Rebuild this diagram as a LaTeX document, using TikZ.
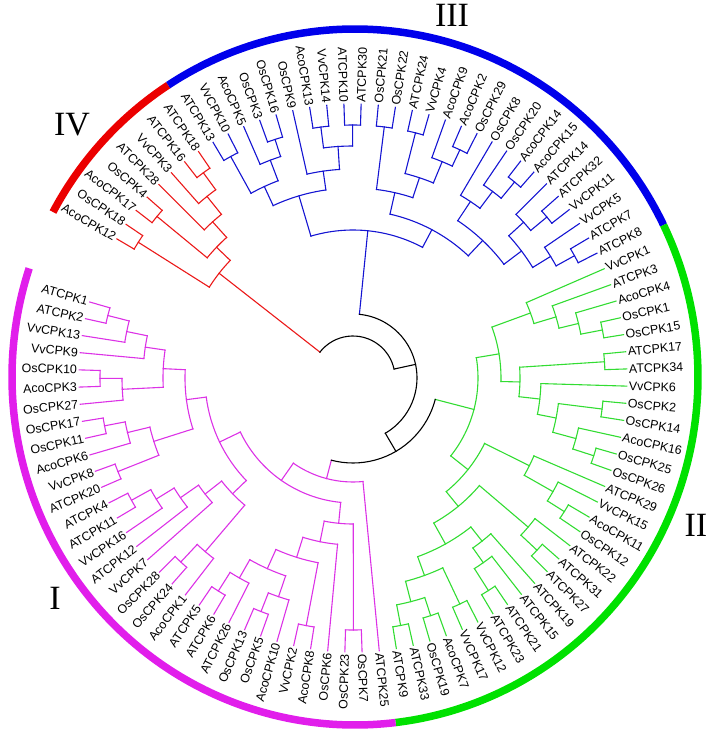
\documentclass[tikz,border=0pt]{standalone}
\usepackage{fontspec}
\setmainfont{Liberation Serif}
\newfontfamily\labfont{Liberation Sans}
\definecolor{cR}{RGB}{235,25,25}
\definecolor{cB}{RGB}{20,20,210}
\definecolor{cG}{RGB}{50,220,50}
\definecolor{cM}{RGB}{220,50,230}
\definecolor{cK}{RGB}{0,0,0}
\definecolor{rR}{RGB}{235,0,0}
\definecolor{rB}{RGB}{0,0,235}
\definecolor{rG}{RGB}{0,225,0}
\definecolor{rM}{RGB}{225,30,235}
\tikzset{
  branch/.style={line width=1.1pt, line cap=rect},
  lab/.style={font=\labfont\fontsize{12.4}{14}\selectfont, inner sep=0pt},
  ringarc/.style={line width=7.5pt},
  roman/.style={font=\fontsize{34}{40}\selectfont, inner sep=0pt}
}
\newcommand\tleaf[4]{%
  \pgfmathsetmacro\tkA{149.5-3.6*#2}%
  \expandafter\xdef\csname TA-#1\endcsname{\tkA}%
  \expandafter\xdef\csname TR-#1\endcsname{#3}%
  \expandafter\xdef\csname TC-#1\endcsname{#4}%
  \coordinate (#1) at (\tkA:#3pt);%
  \pgfmathsetmacro\tkL{#3+2}%
  \pgfmathtruncatemacro\tkS{cos(\tkA)>0}%
  \ifnum\tkS=1
    \node[lab,rotate=\tkA,anchor=west] (L-#1) at (\tkA:\tkL pt) {#1};%
  \else
    \pgfmathsetmacro\tkB{\tkA+180}%
    \node[lab,rotate=\tkB,anchor=east] (L-#1) at (\tkA:\tkL pt) {#1};%
  \fi
}
\newcommand\tnode[5]{%
  \edef\tkA{\csname TA-#3\endcsname}\edef\tkB{\csname TA-#4\endcsname}%
  \edef\tkCa{\csname TC-#3\endcsname}\edef\tkCb{\csname TC-#4\endcsname}%
  \pgfmathsetmacro\tkM{(\tkA+\tkB)/2}%
  \expandafter\xdef\csname TA-#1\endcsname{\tkM}%
  \expandafter\xdef\csname TR-#1\endcsname{#2}%
  \expandafter\xdef\csname TC-#1\endcsname{#5}%
  \coordinate (#1) at (\tkM:#2pt);%
  \draw[branch,color=\tkCa] (#3) -- (\tkA:#2pt);%
  \draw[branch,color=\tkCb] (#4) -- (\tkB:#2pt);%
  \draw[branch,color=#5] (\tkA:#2pt) arc[start angle=\tkA, end angle=\tkB, radius=#2pt];%
}
\begin{document}
\begin{tikzpicture}[x=1pt,y=1pt]
\useasboundingbox (-353,-354) rectangle (356,378);
% outer ring
\begin{scope}[shift={(2,1)}]
\draw[ringarc,rR] (151.7:343pt and 348pt) arc[start angle=151.7,end angle=123,x radius=343pt,y radius=348pt];
\draw[ringarc,rB] (123:343pt and 348pt) arc[start angle=123,end angle=25.9,x radius=343pt,y radius=348pt];
\draw[ringarc,rG] (25.9:343pt and 348pt) arc[start angle=25.9,end angle=-83.2,x radius=343pt,y radius=348pt];
\draw[ringarc,rM] (-83.2:343pt and 348pt) arc[start angle=-83.2,end angle=-198.2,x radius=343pt,y radius=348pt];
\end{scope}
\node[roman] (numIV) at (-281,253) {IV};
\node[roman] (numIII) at (99,363) {III};
\node[roman] (numII) at (343,-147) {II};
\node[roman] (numI) at (-298,-220) {I};
% leaves IV
\tleaf{AcoCPK12}{0}{274}{cR}\tleaf{OsCPK18}{1}{274}{cR}\tleaf{AcoCPK17}{2}{274}{cR}
\tleaf{OsCPK4}{3}{274}{cR}\tleaf{ATCPK28}{4}{274}{cR}\tleaf{VvCPK3}{5}{274}{cR}
\tleaf{ATCPK16}{6}{274}{cR}\tleaf{ATCPK18}{7}{274}{cR}
% leaves III
\tleaf{ATCPK13}{8}{274}{cB}
\tleaf{VvCPK10}{9}{274}{cB}\tleaf{AcoCPK5}{10}{274}{cB}\tleaf{OsCPK3}{11}{274}{cB}
\tleaf{OsCPK16}{12}{274}{cB}\tleaf{OsCPK9}{13}{274}{cB}\tleaf{AcoCPK13}{14}{274}{cB}
\tleaf{VvCPK14}{15}{274}{cB}\tleaf{ATCPK10}{16}{274}{cB}\tleaf{ATCPK30}{17}{274}{cB}
\tleaf{OsCPK21}{18}{274}{cB}\tleaf{OsCPK22}{19}{274}{cB}\tleaf{ATCPK24}{20}{274}{cB}
\tleaf{VvCPK4}{21}{274}{cB}\tleaf{AcoCPK9}{22}{274}{cB}\tleaf{AcoCPK2}{23}{274}{cB}
\tleaf{OsCPK29}{24}{274}{cB}\tleaf{OsCPK8}{25}{274}{cB}\tleaf{OsCPK20}{26}{274}{cB}
\tleaf{AcoCPK14}{27}{274}{cB}\tleaf{AcoCPK15}{28}{274}{cB}\tleaf{ATCPK14}{29}{274}{cB}
\tleaf{ATCPK32}{30}{274}{cB}\tleaf{VvCPK11}{31}{274}{cB}\tleaf{VvCPK5}{32}{274}{cB}
\tleaf{ATCPK7}{33}{274}{cB}\tleaf{ATCPK8}{34}{274}{cB}
% leaves II
\tleaf{VvCPK1}{35}{274}{cG}\tleaf{ATCPK3}{36}{274}{cG}\tleaf{AcoCPK4}{37}{274}{cG}
\tleaf{OsCPK1}{38}{274}{cG}\tleaf{OsCPK15}{39}{274}{cG}\tleaf{ATCPK17}{40}{274}{cG}
\tleaf{ATCPK34}{41}{274}{cG}\tleaf{VvCPK6}{42}{274}{cG}\tleaf{OsCPK2}{43}{274}{cG}
\tleaf{OsCPK14}{44}{274}{cG}\tleaf{AcoCPK16}{45}{274}{cG}\tleaf{OsCPK25}{46}{274}{cG}
\tleaf{OsCPK26}{47}{274}{cG}\tleaf{ATCPK29}{48}{274}{cG}\tleaf{VvCPK15}{49}{274}{cG}
\tleaf{AcoCPK11}{50}{274}{cG}\tleaf{OsCPK12}{51}{274}{cG}\tleaf{ATCPK22}{52}{274}{cG}
\tleaf{ATCPK31}{53}{274}{cG}\tleaf{ATCPK27}{54}{274}{cG}\tleaf{ATCPK19}{55}{274}{cG}
\tleaf{ATCPK15}{56}{274}{cG}\tleaf{ATCPK21}{57}{274}{cG}\tleaf{ATCPK23}{58}{274}{cG}
\tleaf{VvCPK12}{59}{274}{cG}\tleaf{VvCPK17}{60}{274}{cG}\tleaf{AcoCPK7}{61}{274}{cG}
\tleaf{OsCPK19}{62}{274}{cG}\tleaf{ATCPK33}{63}{274}{cG}\tleaf{ATCPK9}{64}{274}{cG}
% leaves I
\tleaf{ATCPK25}{65}{274}{cM}\tleaf{OsCPK7}{66}{274}{cM}\tleaf{OsCPK23}{67}{274}{cM}
\tleaf{OsCPK6}{68}{274}{cM}\tleaf{AcoCPK8}{69}{274}{cM}\tleaf{VvCPK2}{70}{274}{cM}
\tleaf{AcoCPK10}{71}{274}{cM}\tleaf{OsCPK5}{72}{274}{cM}\tleaf{OsCPK13}{73}{274}{cM}
\tleaf{ATCPK26}{74}{274}{cM}\tleaf{ATCPK6}{75}{274}{cM}\tleaf{ATCPK5}{76}{274}{cM}
\tleaf{AcoCPK1}{77}{274}{cM}\tleaf{OsCPK24}{78}{274}{cM}\tleaf{OsCPK28}{79}{274}{cM}
\tleaf{VvCPK7}{80}{274}{cM}\tleaf{ATCPK12}{81}{274}{cM}\tleaf{VvCPK16}{82}{274}{cM}
\tleaf{ATCPK11}{83}{274}{cM}\tleaf{ATCPK4}{84}{274}{cM}\tleaf{ATCPK20}{85}{274}{cM}
\tleaf{VvCPK8}{86}{274}{cM}\tleaf{AcoCPK6}{87}{274}{cM}\tleaf{OsCPK11}{88}{274}{cM}
\tleaf{OsCPK17}{89}{274}{cM}\tleaf{OsCPK27}{90}{274}{cM}\tleaf{AcoCPK3}{91}{274}{cM}
\tleaf{OsCPK10}{92}{274}{cM}\tleaf{VvCPK9}{93}{274}{cM}\tleaf{VvCPK13}{94}{274}{cM}
\tleaf{ATCPK2}{95}{274}{cM}\tleaf{ATCPK1}{96}{274}{cM}
% clade IV
\tnode{r-a}{254}{AcoCPK12}{OsCPK18}{cR}
\tnode{r-b}{254}{AcoCPK17}{OsCPK4}{cR}
\tnode{r-e}{254}{ATCPK16}{ATCPK18}{cR}
\tnode{r-d}{233}{VvCPK3}{r-e}{cR}
\tnode{r-c}{210}{ATCPK28}{r-d}{cR}
\tnode{r-rest}{189}{r-b}{r-c}{cR}
\tnode{cladeIV}{170}{r-a}{r-rest}{cR}
% clade III
\tnode{b-n1}{253}{ATCPK13}{VvCPK10}{cB}
\tnode{b-n2}{251}{OsCPK3}{OsCPK16}{cB}
\tnode{b-n2b}{233}{AcoCPK5}{b-n2}{cB}
\tnode{b-LL}{211}{b-n1}{b-n2b}{cB}
\tnode{b-n3}{253}{AcoCPK13}{VvCPK14}{cB}
\tnode{b-n4}{253}{ATCPK10}{ATCPK30}{cB}
\tnode{b-LR2}{232}{b-n3}{b-n4}{cB}
\tnode{b-LR}{209}{OsCPK9}{b-LR2}{cB}
\tnode{b-L}{190}{b-LL}{b-LR}{cB}
\tnode{b-n5}{253}{OsCPK21}{OsCPK22}{cB}
\tnode{b-n6}{253}{ATCPK24}{VvCPK4}{cB}
\tnode{b-n7}{252}{AcoCPK2}{OsCPK29}{cB}
\tnode{b-n8}{234}{AcoCPK9}{b-n7}{cB}
\tnode{b-RA2}{211}{b-n6}{b-n8}{cB}
\tnode{b-RA}{190}{b-n5}{b-RA2}{cB}
\tnode{b-n9}{254}{AcoCPK14}{AcoCPK15}{cB}
\tnode{b-n10}{233}{OsCPK20}{b-n9}{cB}
\tnode{b-RB1}{212}{OsCPK8}{b-n10}{cB}
\tnode{b-n11}{252}{ATCPK32}{VvCPK11}{cB}
\tnode{b-RB2a}{231}{ATCPK14}{b-n11}{cB}
\tnode{b-n12}{253}{ATCPK7}{ATCPK8}{cB}
\tnode{b-RB2b}{232}{VvCPK5}{b-n12}{cB}
\tnode{b-RB2}{211}{b-RB2a}{b-RB2b}{cB}
\tnode{b-RB}{189}{b-RB1}{b-RB2}{cB}
\tnode{b-R}{168}{b-RA}{b-RB}{cB}
\tnode{cladeIII}{148}{b-L}{b-R}{cB}
% clade II
\tnode{g-4}{254}{OsCPK1}{OsCPK15}{cG}
\tnode{g-3}{232}{AcoCPK4}{g-4}{cG}
\tnode{g-2}{212}{ATCPK3}{g-3}{cG}
\tnode{g-1}{189}{VvCPK1}{g-2}{cG}
\tnode{g-9a}{252}{ATCPK17}{ATCPK34}{cG}
\tnode{g-11a}{251}{OsCPK2}{OsCPK14}{cG}
\tnode{g-13}{253}{OsCPK25}{OsCPK26}{cG}
\tnode{g-12}{231}{AcoCPK16}{g-13}{cG}
\tnode{g-11}{207}{g-11a}{g-12}{cG}
\tnode{g-10}{188}{VvCPK6}{g-11}{cG}
\tnode{g-9}{167}{g-9a}{g-10}{cG}
\tnode{g-0}{148}{g-1}{g-9}{cG}
\tnode{g-7c}{250}{AcoCPK11}{OsCPK12}{cG}
\tnode{g-7b}{230}{VvCPK15}{g-7c}{cG}
\tnode{g-7}{197}{ATCPK29}{g-7b}{cG}
\tnode{g-8e}{252}{ATCPK31}{ATCPK27}{cG}
\tnode{g-8a}{230}{ATCPK22}{g-8e}{cG}
\tnode{g-8h}{252}{ATCPK21}{ATCPK23}{cG}
\tnode{g-8g}{226}{ATCPK15}{g-8h}{cG}
\tnode{g-8c}{208}{ATCPK19}{g-8g}{cG}
\tnode{g-8f}{250}{VvCPK12}{VvCPK17}{cG}
\tnode{g-8i}{250}{AcoCPK7}{OsCPK19}{cG}
\tnode{g-8j}{252}{ATCPK33}{ATCPK9}{cG}
\tnode{g-8k}{231}{g-8i}{g-8j}{cG}
\tnode{g-8d}{210}{g-8f}{g-8k}{cG}
\tnode{g-8b}{190}{g-8c}{g-8d}{cG}
\tnode{g-8}{166}{g-8a}{g-8b}{cG}
\tnode{g-5}{147}{g-7}{g-8}{cG}
\tnode{cladeII}{125}{g-0}{g-5}{cG}
% clade I
\tnode{m-a}{252}{OsCPK7}{OsCPK23}{cM}
\tnode{m-b}{252}{AcoCPK8}{VvCPK2}{cM}
\tnode{m-c}{251}{OsCPK5}{OsCPK13}{cM}
\tnode{m-d}{231}{AcoCPK10}{m-c}{cM}
\tnode{m-e}{252}{ATCPK6}{ATCPK5}{cM}
\tnode{m-f}{230}{ATCPK26}{m-e}{cM}
\tnode{m-g}{209}{m-d}{m-f}{cM}
\tnode{m-X}{188}{m-b}{m-g}{cM}
\tnode{m-a2}{167}{OsCPK6}{m-X}{cM}
\tnode{m-1a}{146}{m-a}{m-a2}{cM}
\tnode{m-h}{252}{OsCPK24}{OsCPK28}{cM}
\tnode{m-i}{228}{AcoCPK1}{m-h}{cM}
\tnode{m-j}{253}{ATCPK11}{ATCPK4}{cM}
\tnode{m-k}{231}{VvCPK16}{m-j}{cM}
\tnode{m-l}{210}{ATCPK12}{m-k}{cM}
\tnode{m-m}{188}{VvCPK7}{m-l}{cM}
\tnode{m-n}{167}{m-i}{m-m}{cM}
\tnode{m-s}{253}{ATCPK20}{VvCPK8}{cM}
\tnode{m-p}{253}{OsCPK11}{OsCPK17}{cM}
\tnode{m-q}{232}{AcoCPK6}{m-p}{cM}
\tnode{m-1g}{209}{m-s}{m-q}{cM}
\tnode{m-t}{253}{ATCPK2}{ATCPK1}{cM}
\tnode{m-u}{231}{VvCPK13}{m-t}{cM}
\tnode{m-v}{210}{VvCPK9}{m-u}{cM}
\tnode{m-w}{253}{AcoCPK3}{OsCPK10}{cM}
\tnode{m-x}{231}{OsCPK27}{m-w}{cM}
\tnode{m-1f}{190}{m-x}{m-v}{cM}
\tnode{m-1e}{168}{m-1g}{m-1f}{cM}
\tnode{m-1b}{148}{m-n}{m-1e}{cM}
\tnode{m-1}{125}{m-1a}{m-1b}{cM}
\tnode{cladeI}{104}{ATCPK25}{m-1}{cM}
% backbone
\tnode{nodeY}{85}{cladeII}{cladeI}{cK}
\tnode{nodeX}{64}{cladeIII}{nodeY}{cK}
\tnode{root}{42}{cladeIV}{nodeX}{cK}
\end{tikzpicture}
\end{document}
